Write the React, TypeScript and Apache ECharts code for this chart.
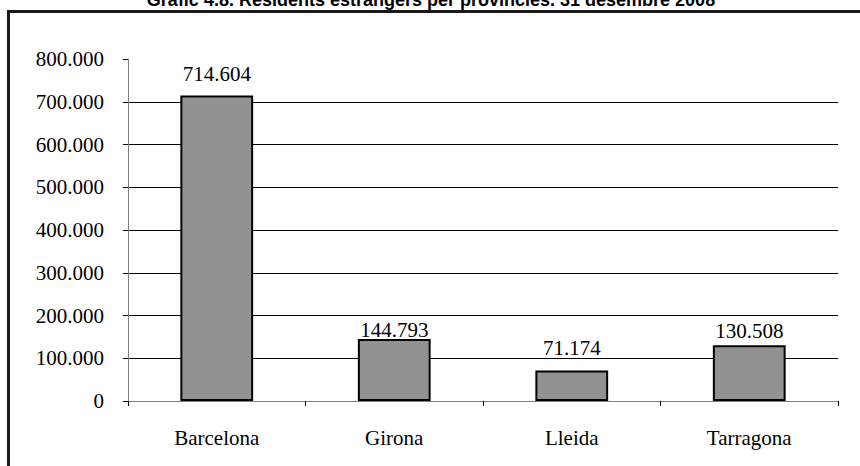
import React, { useEffect, useRef } from "react";
import * as echarts from "echarts";

const title = "Gràfic 4.8. Residents estrangers per províncies. 31 desembre 2008";
const categories = ["Barcelona", "Girona", "Lleida", "Tarragona"];
const residents = [714604, 144793, 71174, 130508];
const yMax = 800000;
const yStep = 100000;
// label gaps above each bar (style only)
const labelGaps = [11, -1, 12, 4];

const fmt = (v: number) => {
  if (v === 0) return "0";
  return String(Math.round(v)).replace(/\B(?=(\d{3})+(?!\d))/g, ".");
};

export default function App() {
  const ref = useRef<HTMLDivElement>(null);
  useEffect(() => {
    if (!ref.current) return;
    const chart = echarts.init(ref.current, null, { renderer: "svg" });
    const serif = "'Liberation Serif', 'Times New Roman', serif";
    chart.setOption({
      animation: false,
      backgroundColor: "#ffffff",
      graphic: [
        {
          type: "rect",
          shape: { x: 8.5, y: 11.5, width: 900, height: 500 },
          style: { fill: "none", stroke: "#1a1a1a", lineWidth: 3 },
          z: 10,
        },
        {
          type: "text",
          x: 431,
          y: 9,
          style: {
            text: title,
            fill: "#000",
            font: "bold 18px 'Liberation Sans', Arial, sans-serif",
            textAlign: "center",
            textVerticalAlign: "bottom",
          },
        },
      ],
      grid: { left: 128, right: 22, top: 59, bottom: 65 },
      xAxis: {
        type: "category",
        data: categories,
        axisLine: { lineStyle: { color: "#808080", width: 1 } },
        axisTick: { show: true, length: 5, lineStyle: { color: "#000" } },
        axisLabel: { color: "#000", fontFamily: serif, fontSize: 21, margin: 26 },
      },
      yAxis: {
        type: "value",
        min: 0,
        max: yMax,
        interval: yStep,
        axisLine: { show: true, lineStyle: { color: "#808080", width: 1 } },
        axisTick: { show: true, length: 5, lineStyle: { color: "#000" } },
        axisLabel: {
          color: "#000",
          fontFamily: serif,
          fontSize: 21,
          margin: 24,
          formatter: (v: number) => fmt(v),
        },
        splitLine: {
          show: true,
          lineStyle: {
            color: ["#000", "#000", "#000", "#000", "#000", "#000", "#000", "#000", "rgba(0,0,0,0)"],
            width: 1,
          },
        },
      },
      series: [
        {
          type: "bar",
          data: residents.map((v, i) => ({ value: v, label: { distance: labelGaps[i] } })),
          barWidth: "41%",
          itemStyle: { color: "#929292", borderColor: "#000", borderWidth: 2 },
          label: {
            show: true,
            position: "top",
            color: "#000",
            fontFamily: serif,
            fontSize: 21,
            formatter: (p: any) => fmt(p.value),
          },
        },
      ],
    });
    return () => chart.dispose();
  }, []);
  return (
    <div
      ref={ref}
      style={{ position: "fixed", left: 0, top: 0, width: 860, height: 466 }}
    />
  );
}
